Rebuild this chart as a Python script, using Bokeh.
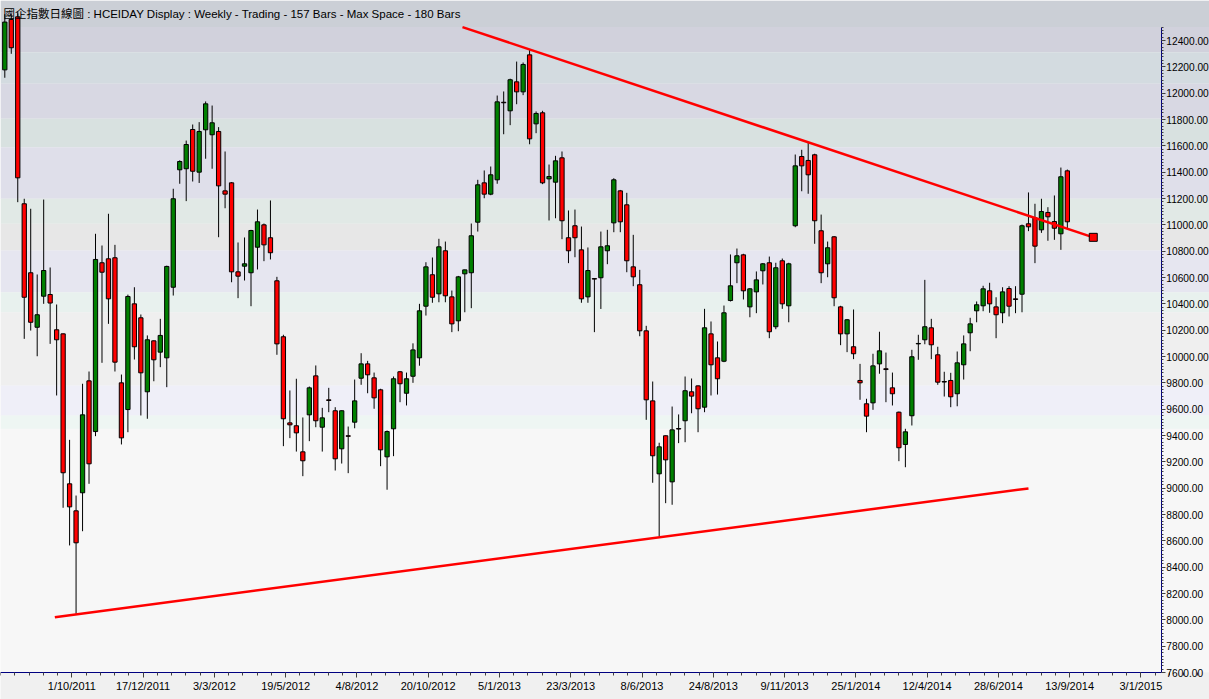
from bokeh.plotting import figure
from bokeh.models import (Range1d, FixedTicker, BoxAnnotation, ColumnDataSource,
                          NumeralTickFormatter, LinearAxis, Label)
from bokeh.embed import file_html
from bokeh.resources import INLINE

# ---- weekly OHLC (bar index 0..164) ----
opens = [12177, 12560, 12580, 11160, 10636, 10222, 10458, 10471, 10203, 10172,
         9033, 8828, 8965, 9815, 9430, 10712, 10742, 10750, 9800, 9597,
         10400, 10294, 9732, 10119, 10033, 9990, 10526, 11418, 11426, 11724,
         11400, 11722, 11684, 11709, 11258, 11319, 10643, 10686, 10636, 10830,
         11000, 10902, 10575, 10150, 9496, 9474, 9276, 9557, 9853, 9463,
         9671, 9588, 9299, 9398, 9501, 9835, 9944, 9838, 9747, 9238,
         9451, 9884, 9721, 9850, 9990, 10382, 10621, 10476, 10803, 10453,
         10271, 10628, 10636, 11020, 11319, 11233, 11342, 11931, 11866, 12086,
         12010, 12291, 11767, 11851, 11349, 11324, 11509, 10902, 10993, 10810,
         10453, 10592, 10598, 10803, 11015, 11258, 11152, 10681, 10545, 10195,
         9663, 9109, 9398, 9048, 9453, 9512, 9732, 9777, 9615, 10172,
         9990, 9964, 10425, 10712, 10772, 10377, 10491, 10651, 10712, 10226,
         10727, 10385, 10993, 11519, 11489, 11532, 10955, 10704, 10909, 10377,
         10172, 10074, 9818, 9641, 9648, 9944, 9907, 9762, 9577, 9332,
         9550, 10096, 10127, 10218, 10013, 9810, 9818, 9717, 9937, 10180,
         10347, 10385, 10499, 10377, 10332, 10516, 10438, 10473, 11008, 11053,
         10962, 11094, 11025, 10932, 11410]
highs = [12600, 12600, 12620, 11198, 11122, 10623, 11192, 10676, 10395, 10175,
         9367, 8944, 9793, 9886, 10932, 10843, 11084, 10848, 9863, 10470,
         10526, 10319, 10160, 10122, 10286, 10690, 11274, 11490, 11640, 11762,
         11780, 11937, 11906, 11742, 11557, 11325, 10866, 10904, 10962, 11116,
         11010, 11185, 10605, 10165, 9742, 9831, 9537, 9772, 9932, 9610,
         9762, 9615, 9590, 9468, 9825, 10025, 9967, 9878, 9755, 9438,
         9848, 9890, 9878, 10100, 10400, 10716, 10752, 10894, 10873, 10501,
         10612, 10660, 11010, 11342, 11413, 11443, 11982, 12013, 12110, 12240,
         12233, 12332, 11861, 11866, 11458, 11524, 11557, 11109, 11116, 10987,
         10828, 10595, 10949, 10962, 11354, 11265, 11243, 10924, 10658, 10233,
         9810, 9345, 9400, 9620, 9560, 9848, 9833, 9780, 10362, 10266,
         10114, 10387, 10775, 10820, 10780, 10520, 10646, 10710, 10759, 10712,
         10744, 10712, 11534, 11570, 11628, 11540, 11078, 10873, 10915, 10385,
         10285, 10357, 9944, 9679, 10021, 10188, 10030, 9878, 9582, 9451,
         10051, 10165, 10582, 10286, 10074, 9884, 9876, 10038, 10160, 10294,
         10418, 10537, 10560, 10450, 10526, 10534, 10534, 11002, 11246, 11160,
         11198, 11134, 11223, 11435, 11420]
lows = [12117, 12299, 11172, 10134, 10197, 10002, 10400, 10096, 9704, 8851,
        8565, 8046, 8673, 9033, 9395, 9952, 10248, 9886, 9332, 9425,
        9977, 9552, 9527, 9812, 9919, 9767, 10463, 11312, 11180, 11329,
        11318, 11502, 11426, 10906, 11126, 10564, 10443, 10577, 10382, 10661,
        10724, 10737, 10013, 9319, 9380, 9278, 9091, 9357, 9463, 9278,
        9577, 9134, 9187, 9114, 9455, 9785, 9721, 9603, 9167, 8988,
        9243, 9653, 9628, 9800, 9930, 10311, 10408, 10412, 10412, 10185,
        10192, 10336, 10367, 10949, 11202, 11225, 11312, 11688, 11757, 11916,
        11985, 11612, 11696, 11309, 11033, 11050, 10891, 10709, 10754, 10408,
        10408, 10185, 10361, 10701, 10944, 10944, 10640, 10534, 10154, 9519,
        9041, 8633, 8886, 8874, 9342, 9349, 9569, 9425, 9577, 9704,
        9711, 9957, 10418, 10557, 10433, 10298, 10329, 10547, 10139, 10207,
        10362, 10260, 10982, 11255, 11236, 10856, 10557, 10602, 10382, 10086,
        10033, 9980, 9671, 9425, 9595, 9869, 9653, 9628, 9205, 9159,
        9476, 9975, 10093, 9980, 9785, 9696, 9615, 9622, 9825, 10040,
        10260, 10344, 10332, 10139, 10253, 10304, 10329, 10336, 10952, 10709,
        10939, 10879, 10886, 10810, 10974]
closes = [12540, 12345, 11357, 10450, 10260, 10317, 10653, 10406, 10127, 9117,
          8858, 8585, 9557, 9185, 10737, 10640, 10438, 9957, 9382, 10456,
          10074, 9876, 10127, 9975, 10160, 10684, 11198, 11481, 11610, 11407,
          11709, 11919, 11775, 11296, 11233, 10643, 10610, 10704, 10957, 11023,
          10848, 10788, 10096, 9527, 9481, 9420, 9208, 9762, 9512, 9534,
          9666, 9223, 9588, 9394, 9663, 9944, 9861, 9686, 9291, 9430,
          9831, 9793, 9831, 10050, 10347, 10681, 10450, 10833, 10461, 10248,
          10605, 10658, 10917, 11304, 11233, 11380, 11934, 11927, 12102, 12010,
          12218, 11653, 11846, 11319, 11367, 11486, 11031, 10803, 10902, 10438,
          10653, 10588, 10833, 10841, 11342, 11023, 10727, 10605, 10195, 9671,
          9246, 9314, 9215, 9443, 9449, 9740, 9699, 9603, 10218, 9937,
          9831, 10332, 10537, 10765, 10499, 10514, 10582, 10704, 10188, 10674,
          10400, 10704, 11448, 11448, 11380, 11031, 10636, 10826, 10446, 10172,
          10279, 10021, 9800, 9547, 9929, 10043, 9901, 9717, 9307, 9428,
          9998, 10099, 10226, 10089, 9805, 9806, 9694, 9952, 10096, 10248,
          10393, 10514, 10400, 10317, 10491, 10382, 10433, 10993, 10985, 10838,
          11101, 11061, 10974, 11365, 11023]

# ---- trend lines ----
resist_x = [70.64, 168.0]
resist_y = [12502, 10905]
support_x = [7.72, 158.0]
support_y = [8020, 8998]

# ---- axis ticks ----
y_ticks = list(range(7600, 12401, 200))
x_tick_pos = [round(10.35 + 11 * k, 2) for k in range(16)]
x_tick_labels = ["1/10/2011", "17/12/2011", "3/3/2012", "19/5/2012", "4/8/2012",
                 "20/10/2012", "5/1/2013", "23/3/2013", "8/6/2013", "24/8/2013",
                 "9/11/2013", "25/1/2014", "12/4/2014", "28/6/2014", "13/9/2014",
                 "3/1/2015"]

# ---- background price zones ----
zone_bottom = [12311, 12071, 11805, 11590, 11198, 11008, 10805, 10488, 10337, 9780, 9552, 9451]
zone_top = [12502, 12311, 12071, 11805, 11590, 11198, 11008, 10805, 10488, 10337, 9780, 9552]
zone_color = ["#d1d1dc", "#d3dbe0", "#d8d8e3", "#d8e1e0", "#dfdfea", "#e1e9e6",
              "#e7e7e7", "#e6e6f0", "#e8f1ee", "#efefef", "#efeff8", "#eef6f3"]

TITLE = "國企指數日線圖 : HCEIDAY Display :  Weekly  - Trading - 157 Bars -  Max Space - 180 Bars"

n = len(opens)
xs = list(range(n))
src = ColumnDataSource(dict(
    x=xs, o=opens, h=highs, l=lows, c=closes,
    top=[max(a, b) for a, b in zip(opens, closes)],
    bot=[min(a, b) for a, b in zip(opens, closes)],
    col=["#008000" if c > o else "#ff0000" for o, c in zip(opens, closes)],
))

W, H = 1209, 699
PANE_BOTTOM_PX = 672
PX_PER_BAR = 6.479
UNITS_PER_PX = 4800 / 632
x_start = -0.664
x_end = x_start + W / PX_PER_BAR
y_bottom = 7600 - (H - PANE_BOTTOM_PX) * UNITS_PER_PX
y_top = 7600 + PANE_BOTTOM_PX * UNITS_PER_PX
frame_top_val = 12502          # top of the price pane
axis_x = 178.5                 # bar position of the price axis

p = figure(frame_width=W, frame_height=H,
           x_range=Range1d(x_start, x_end),
           y_range=Range1d(y_bottom, y_top),
           x_axis_location=None, y_axis_location=None,
           output_backend="svg", toolbar_location=None,
           min_border_left=0, min_border_top=0, min_border_bottom=0, min_border_right=0)

font = "'Liberation Sans', 'Noto Sans CJK TC', sans-serif"
p.border_fill_color = "#f0f0f0"
p.background_fill_color = "#f7f7f7"
p.outline_line_color = None
p.grid.visible = False

for b, t, c in zip(zone_bottom, zone_top, zone_color):
    p.add_layout(BoxAnnotation(bottom=b, top=t, fill_color=c, fill_alpha=1.0,
                               line_color=None, level="underlay"))
# title bar and date strip
p.add_layout(BoxAnnotation(bottom=frame_top_val, fill_color="#cbcfd6", fill_alpha=1.0,
                           line_color=None, level="underlay"))
p.add_layout(BoxAnnotation(top=7600, fill_color="#f0f0f0", fill_alpha=1.0,
                           line_color=None, level="underlay"))
p.add_layout(Label(x=-0.2, y=frame_top_val + 13 * UNITS_PER_PX + 1, text=TITLE,
                   text_font=font, text_font_size="11.5px", text_color="#000000",
                   text_baseline="middle", text_align="left"))

# wicks
p.segment(x0="x", y0="h", x1="x", y1="l", source=src, line_color="#000000", line_width=1)
# bodies
p.vbar(x="x", width=0.66, top="top", bottom="bot", source=src,
       fill_color="col", line_color="#000000", line_width=1)

# trend lines
p.line(resist_x, resist_y, line_color="#ff0000", line_width=2.5)
p.line(support_x, support_y, line_color="#ff0000", line_width=2.5)
p.scatter([resist_x[-1]], [resist_y[-1]], marker="square", size=8,
          fill_color="#ff0000", line_color="#000000", line_width=1)

# price axis on the right, drawn at a fixed bar position
ya = LinearAxis(fixed_location=axis_x, bounds=(7600, frame_top_val))
ya.ticker = FixedTicker(ticks=y_ticks, minor_ticks=list(range(7600, 12501, 25)))
ya.formatter = NumeralTickFormatter(format="0.00")
ya.axis_line_color = "#000080"
ya.major_tick_line_color = "#404040"
ya.minor_tick_line_color = "#404040"
ya.major_tick_in = 0
ya.major_tick_out = 4
ya.minor_tick_in = 0
ya.minor_tick_out = 2
ya.major_label_standoff = 1
ya.major_label_text_font = font
ya.major_label_text_font_size = "10.2px"
ya.major_label_text_color = "#000000"
p.add_layout(ya, "right")

# date axis, drawn at the bottom of the price pane
xa = LinearAxis(fixed_location=7600, bounds=(x_start, axis_x))
minor_x = [round(10.35 - 11 + 2.2 * j, 2) for j in range(86)]
xa.ticker = FixedTicker(ticks=x_tick_pos, minor_ticks=minor_x)
xa.major_label_overrides = {t: s for t, s in zip(x_tick_pos, x_tick_labels)}
xa.axis_line_color = "#000080"
xa.major_tick_line_color = "#404040"
xa.minor_tick_line_color = "#404040"
xa.major_tick_in = 0
xa.major_tick_out = 5
xa.minor_tick_in = 0
xa.minor_tick_out = 3
xa.major_label_standoff = 2
xa.major_label_text_font = font
xa.major_label_text_font_size = "11px"
xa.major_label_text_color = "#000000"
p.add_layout(xa, "below")

open("out.html", "w").write(file_html(p, INLINE))
